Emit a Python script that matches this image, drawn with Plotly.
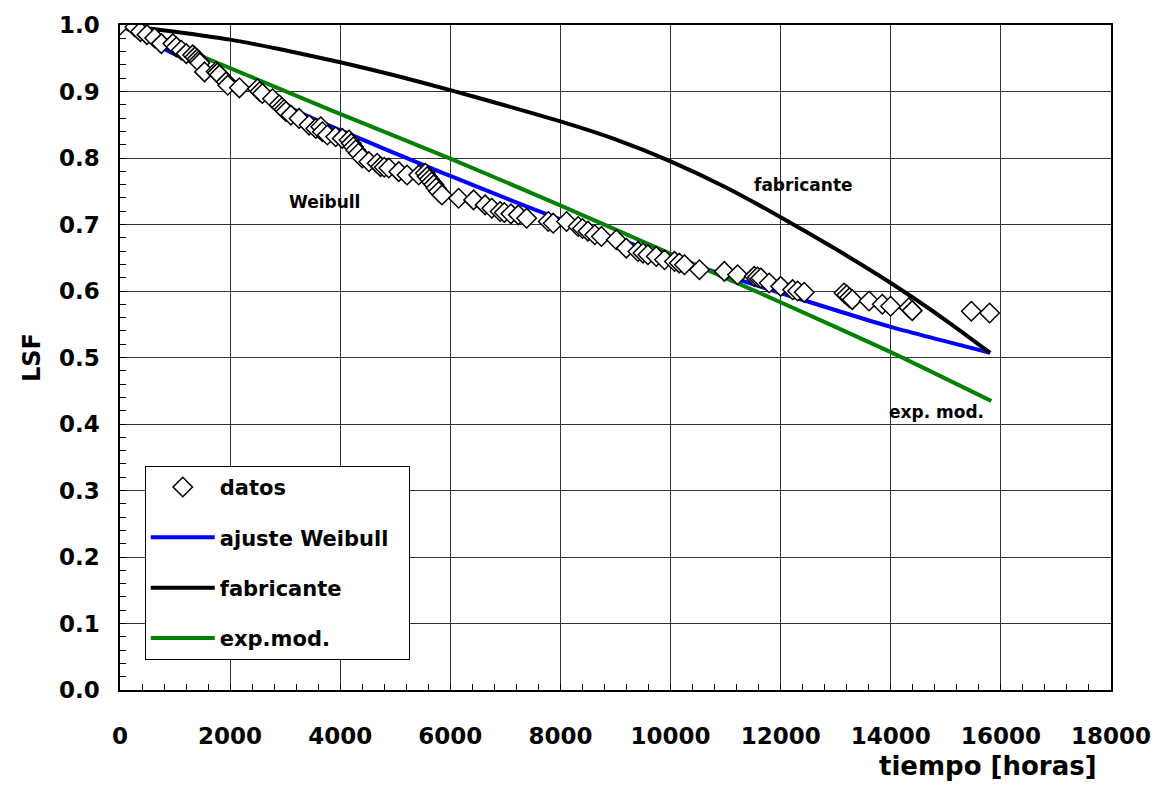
import plotly.graph_objects as go

# ---- data ----
datos_t = [0, 270, 370, 490, 630, 750, 960, 1022, 1113, 1203, 1320, 1360, 1400, 1430, 1450,
           1535, 1747, 1770, 1806, 1928, 1958, 2168, 2497, 2540, 2586, 2771, 2892, 2940, 2980,
           3013, 3103, 3254, 3435, 3557, 3647, 3676, 3766, 3918, 4038, 4160, 4200, 4240, 4280,
           4330, 4400, 4521, 4672, 4733, 4800, 4883, 5064, 5214, 5426, 5547, 5580, 5620, 5660,
           5700, 5740, 5788, 5848, 6150, 6422, 6633, 6753, 6905, 6980, 7100, 7236, 7386, 7779,
           7869, 8111, 8322, 8400, 8500, 8624, 8744, 9015, 9196, 9408, 9500, 9589, 9740, 9891,
           10072, 10160, 10253, 10525, 10977, 11218, 11520, 11580, 11640, 11792, 12000, 12217,
           12308, 12428, 13150, 13200, 13250, 13300, 13605, 13846, 13997, 14330, 14389, 15463,
           15795]
datos_r = [1.000, 0.997, 0.990, 0.9855, 0.9805, 0.972, 0.972, 0.967, 0.962, 0.957, 0.955, 0.952,
           0.949, 0.946, 0.943, 0.9295, 0.930, 0.928, 0.925, 0.9145, 0.9095, 0.9055, 0.904, 0.900,
           0.897, 0.889, 0.880, 0.876, 0.873, 0.870, 0.8645, 0.8595, 0.8495, 0.8445, 0.847, 0.8395,
           0.8345, 0.832, 0.8295, 0.827, 0.822, 0.817, 0.812, 0.807, 0.800, 0.7945, 0.792, 0.787,
           0.786, 0.785, 0.7795, 0.7745, 0.7745, 0.777, 0.772, 0.768, 0.764, 0.760, 0.755, 0.7495,
           0.7445, 0.7395, 0.737, 0.7295, 0.7245, 0.7195, 0.718, 0.716, 0.7145, 0.7095, 0.7045,
           0.702, 0.7045, 0.697, 0.694, 0.690, 0.6845, 0.682, 0.677, 0.6645, 0.6595, 0.657, 0.6545,
           0.652, 0.647, 0.6445, 0.642, 0.6395, 0.632, 0.6295, 0.6245, 0.622, 0.621, 0.6195, 0.612,
           0.607, 0.602, 0.600, 0.598, 0.597, 0.594, 0.590, 0.587, 0.585, 0.580, 0.577, 0.575,
           0.5705, 0.5695, 0.567]

weibull_t = [0, 875, 2380, 3620, 6000, 7964, 10679, 12000, 14000, 15806]
weibull_r = [1.0, 0.961, 0.903, 0.855, 0.773, 0.709, 0.632, 0.597, 0.546, 0.507]

fabric_t = [0, 1000, 2000, 3000, 4000, 5000, 6000, 7000, 8000, 9000, 10000, 11000, 12000,
            13000, 14000, 15000, 15806]
fabric_r = [1.0, 0.990, 0.978, 0.962, 0.944, 0.924, 0.902, 0.879, 0.855, 0.828, 0.795, 0.756,
            0.711, 0.663, 0.612, 0.556, 0.507]

expmod_t = [0, 1538, 3861, 6000, 7964, 10000, 11946, 14000, 15826]
expmod_r = [1.0, 0.951, 0.871, 0.799, 0.730, 0.656, 0.585, 0.508, 0.4345]

x_ticks = [0, 2000, 4000, 6000, 8000, 10000, 12000, 14000, 16000, 18000]
y_ticks = [0.0, 0.1, 0.2, 0.3, 0.4, 0.5, 0.6, 0.7, 0.8, 0.9, 1.0]
y_labels = ["0.0", "0.1", "0.2", "0.3", "0.4", "0.5", "0.6", "0.7", "0.8", "0.9", "1.0"]

FONT = "DejaVu Sans"
NB = "\u00a0"

fig = go.Figure()
fig.add_trace(go.Scatter(x=weibull_t, y=weibull_r, mode="lines", name="ajuste Weibull" + NB * 2,
                         line=dict(color="#0000FF", width=4, shape="spline", smoothing=0.5),
                         legendrank=2, legendgroup="b"))
fig.add_trace(go.Scatter(x=fabric_t, y=fabric_r, mode="lines", name="fabricante",
                         line=dict(color="#000000", width=4, shape="spline", smoothing=0.5),
                         legendrank=3, legendgroup="c"))
fig.add_trace(go.Scatter(x=expmod_t, y=expmod_r, mode="lines", name="exp.mod.",
                         line=dict(color="#008000", width=4, shape="spline", smoothing=0.5),
                         legendrank=4, legendgroup="d"))
fig.add_trace(go.Scatter(x=datos_t, y=datos_r, mode="markers", name="datos",
                         marker=dict(symbol="diamond", size=15, color="white",
                                     line=dict(color="black", width=1.5)),
                         legendrank=1, legendgroup="a"))

fig.add_annotation(x=3707, y=0.7345, text="Weibull", showarrow=False,
                   font=dict(family=FONT, size=17, color="black", weight="bold"))
fig.add_annotation(x=12412, y=0.76, text="fabricante", showarrow=False,
                   font=dict(family=FONT, size=17, color="black", weight="bold"))
fig.add_annotation(x=14838, y=0.418, text="exp. mod.", showarrow=False,
                   font=dict(family=FONT, size=17, color="black", weight="bold"))
fig.add_annotation(x=0.988, y=-0.115, xref="paper", yref="paper", xanchor="right", yanchor="middle",
                   text="tiempo [horas]", showarrow=False,
                   font=dict(family=FONT, size=26, color="black", weight="bold"))

axis_common = dict(showline=True, linecolor="black", linewidth=1.5, mirror=True,
                   showgrid=True, gridcolor="#333333", gridwidth=1, zeroline=False,
                   ticks="inside", ticklen=6, tickcolor="black",
                   tickfont=dict(family=FONT, size=23, color="black", weight="bold"))

fig.update_xaxes(range=[0, 18000], tickvals=x_ticks, ticktext=[str(v) for v in x_ticks],
                 minor=dict(dtick=400, tick0=0, ticks="inside", ticklen=6, tickcolor="black",
                            showgrid=False),
                 ticklabelstandoff=25, **axis_common)
fig.update_yaxes(range=[0, 1.0], tickvals=y_ticks, ticktext=y_labels,
                 minor=dict(dtick=0.02, tick0=0, ticks="inside", ticklen=6, tickcolor="black",
                            showgrid=False),
                 ticklabelstandoff=14,
                 title=dict(text="LSF", standoff=12,
                            font=dict(family=FONT, size=24, color="black", weight="bold")),
                 **axis_common)

fig.update_layout(
    width=1163, height=787,
    margin=dict(l=120, r=47, t=23, b=97),
    paper_bgcolor="white", plot_bgcolor="white",
    showlegend=True,
    legend=dict(x=0.025, y=0.337, xanchor="left", yanchor="top",
                bgcolor="white", bordercolor="black", borderwidth=1,
                traceorder="grouped", tracegroupgap=20, itemwidth=64,
                font=dict(family=FONT, size=21, color="black", weight="bold")),
)

fig.write_html("out.html")
